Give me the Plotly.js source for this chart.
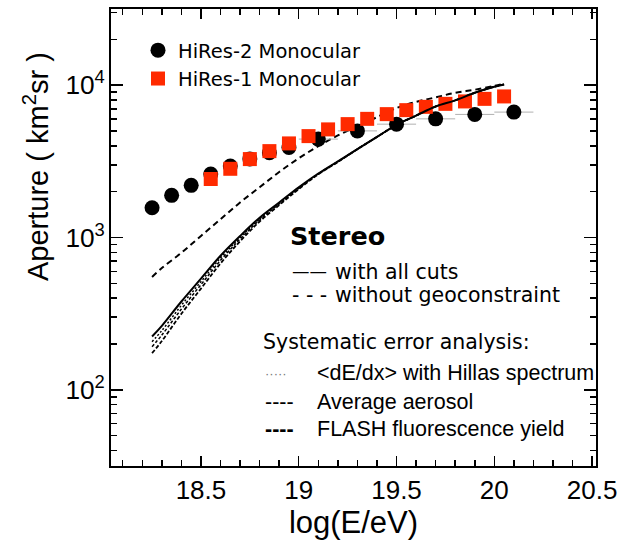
<!DOCTYPE html>
<html>
<head>
<meta charset="utf-8">
<script src="https://cdn.plot.ly/plotly-3.0.1.min.js"></script>
<style>
html,body{margin:0;padding:0;background:#fff;}
#chart{width:618px;height:546px;}
</style>
</head>
<body>
<div id="chart"></div>
<script>
// HiRes-2 monocular aperture (km^2 sr) vs log(E/eV)
const hr2E    = [18.25, 18.35, 18.45, 18.55, 18.65, 18.75, 18.85, 18.95, 19.1, 19.3, 19.5, 19.7, 19.9, 20.1];
const hr2A    = [1567, 1891, 2199, 2608, 2944, 3280, 3597, 3902, 4427, 5010, 5546, 6010, 6426, 6656];
const hr2Err  = [0, 0, 0, 0, 0, 0, 0, 0, 0.1, 0.1, 0.1, 0.1, 0.1, 0.1];

// HiRes-1 monocular aperture
const hr1E = [18.55, 18.65, 18.75, 18.85, 18.95, 19.05, 19.15, 19.25, 19.35, 19.45, 19.55, 19.65, 19.75, 19.85, 19.95, 20.05];
const hr1A = [2421, 2825, 3272, 3690, 4146, 4630, 5125, 5550, 6010, 6455, 6855, 7205, 7540, 7820, 8130, 8434];

// Stereo curves
const stE = [18.25, 18.3, 18.4, 18.5, 18.6, 18.7, 18.8, 18.9, 19.0, 19.1, 19.2, 19.3, 19.4, 19.5, 19.6, 19.7, 19.8, 19.9, 20.0, 20.05];
const stAllCuts  = [224, 263, 380, 537, 759, 1023, 1349, 1698, 2138, 2630, 3162, 3802, 4571, 5495, 6310, 7244, 7943, 8913, 9772, 10116];
const stNoGeo    = [550, 630, 794, 1023, 1318, 1698, 2138, 2692, 3311, 3981, 4677, 5370, 6166, 7079, 7762, 8318, 8913, 9333, 9886, 10233];
const sysDedx    = [207, 245, 359, 513, 733, 1000, 1324, 1679, 2123, 2620, 3150, 3802, 4571, 5495, 6310, 7244, 7943, 8913, 9772, 10116];
const sysAerosol = [192, 229, 339, 490, 708, 977, 1303, 1660, 2104, 2610, 3140, 3802, 4571, 5495, 6310, 7244, 7943, 8913, 9772, 10116];
const sysFlash   = [174, 209, 316, 462, 676, 944, 1274, 1633, 2080, 2600, 3130, 3802, 4571, 5495, 6310, 7244, 7943, 8913, 9772, 10116];

const traces = [
  {x: stE, y: stNoGeo, mode: 'lines', showlegend: false, line: {color: '#000', width: 2, dash: '6px,4px', shape: 'spline'}},
  {x: stE, y: sysDedx, mode: 'lines', showlegend: false, line: {color: '#000', width: 1.5, dash: '2px,2px', shape: 'spline'}},
  {x: stE, y: sysAerosol, mode: 'lines', showlegend: false, line: {color: '#000', width: 1.5, dash: '3px,2px', shape: 'spline'}},
  {x: stE, y: sysFlash, mode: 'lines', showlegend: false, line: {color: '#000', width: 1.8, dash: '4px,2px', shape: 'spline'}},
  {x: hr2E, y: hr2A, mode: 'markers', name: 'HiRes-2 Monocular',
   marker: {symbol: 'circle', size: 15, color: '#000'},
   error_x: {type: 'data', array: hr2Err, visible: true, color: '#b0b0b0', thickness: 1, width: 0}},
  {x: hr1E, y: hr1A, mode: 'markers', name: 'HiRes-1 Monocular',
   marker: {symbol: 'square', size: 14, color: '#ff2a00'}},
  {x: stE, y: stAllCuts, mode: 'lines', showlegend: false, line: {color: '#000', width: 2, shape: 'spline'}}
];

const W = 618, H = 546, L = 111, R = 22, T = 9, B = 80;
const pw = W - L - R, ph = H - T - B;
function px(x){ return (x - L) / pw; }
function py(y){ return (H - B - y) / ph; }

const sans = 'DejaVu Sans, sans-serif';
const arial = 'Liberation Sans, Arial, sans-serif';

function note(text, x, y, family, size, extra){
  return Object.assign({text: text, x: px(x), y: py(y), xref: 'paper', yref: 'paper',
    xanchor: 'left', yanchor: 'middle', showarrow: false, borderpad: 0,
    font: {family: family, size: size, color: '#000'}}, extra || {});
}

const annotations = [
  note('Aperture ( km<sup>2</sup>sr )', 36, 167, arial, 29, {textangle: -90, xanchor: 'center'}),
  note('<b>Stereo</b>', 289, 236, sans, 25.5),
  note('——', 291, 271, sans, 17.5),
  note('with all cuts', 334, 272, sans, 20.5),
  note('- - -', 291, 295, sans, 20.5),
  note('without geoconstraint', 334, 295, sans, 20.5),
  note('Systematic error analysis:', 262, 342, sans, 20.5),
  note('·····', 264, 373, arial, 13, {font: {family: arial, size: 13, color: '#777'}}),
  note('&lt;dE/dx&gt; with Hillas spectrum', 316, 373, arial, 21.5),
  note('----', 264, 402, arial, 21.5),
  note('Average aerosol', 316, 402, arial, 21.5),
  note('<b>----</b>', 264, 429, arial, 21.5),
  note('FLASH fluorescence yield', 316, 429, arial, 21.5)
];

const layout = {
  width: W, height: H,
  margin: {l: L, r: R, t: T, b: B},
  showlegend: true,
  legend: {x: px(138), y: py(31), xanchor: 'left', yanchor: 'top', bgcolor: 'rgba(0,0,0,0)',
           font: {family: sans, size: 19.5, color: '#000'}, tracegroupgap: 0, itemsizing: 'trace'},
  xaxis: {
    range: [18.04, 20.52], gridcolor: 'rgba(0,0,0,0)',
    showline: true, linecolor: '#000', linewidth: 2, mirror: 'ticks',
    ticks: 'inside', ticklen: 10, tickwidth: 1.5, tickcolor: '#000',
    tick0: 18.5, dtick: 0.5, ticklabeloverflow: 'allow',
    tickfont: {family: arial, size: 26, color: '#000'},
    minor: {tick0: 18.5, dtick: 0.1, ticks: 'inside', ticklen: 6, gridcolor: 'rgba(0,0,0,0)'},
    title: {text: 'log(E/eV)', font: {family: arial, size: 31, color: '#000'}, standoff: 4}
  },
  yaxis: {
    type: 'log', range: [1.5, 4.5], gridcolor: 'rgba(0,0,0,0)',
    showline: true, linecolor: '#000', linewidth: 2, mirror: 'ticks',
    ticks: 'inside', ticklen: 12, tickwidth: 1.5, tickcolor: '#000',
    dtick: 1, exponentformat: 'power',
    tickfont: {family: arial, size: 21, color: '#000'},
    minor: {dtick: 'D1', ticks: 'inside', ticklen: 6, gridcolor: 'rgba(0,0,0,0)'}
  },
  annotations: annotations
};

Plotly.newPlot('chart', traces, layout, {displayModeBar: false, staticPlot: true});
</script>
</body>
</html>
